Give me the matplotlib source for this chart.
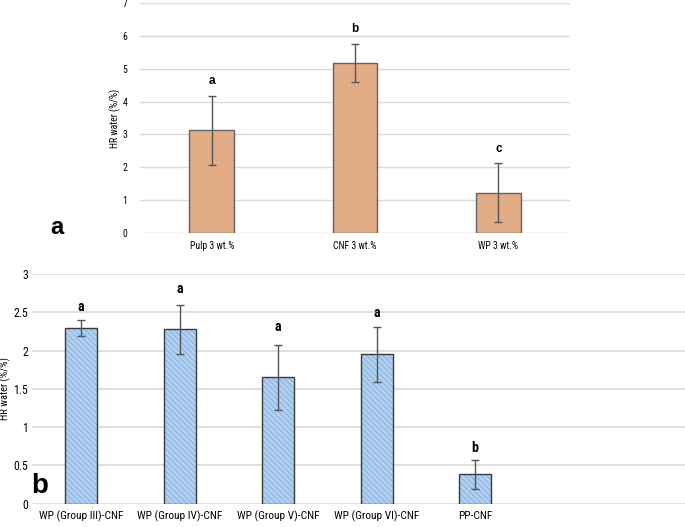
import matplotlib
matplotlib.use("Agg")
import matplotlib.pyplot as plt
from matplotlib import font_manager

# Datos panel (a)
cats_a = ['Pulp 3 wt.%', 'CNF 3 wt.%', 'WP 3 wt.%']
vals_a = [3.12, 5.17, 1.23]
errs_a = [1.04, 0.58, 0.91]
lets_a = ['a', 'b', 'c']
lets_a_y = [4.63, 6.2, 2.55]

# Datos panel (b)
cats_b = ['WP (Group III)-CNF', 'WP (Group IV)-CNF', 'WP (Group V)-CNF',
          'WP (Group VI)-CNF', 'PP-CNF']
vals_b = [2.30, 2.28, 1.65, 1.95, 0.385]
errs_b = [0.105, 0.32, 0.42, 0.355, 0.19]
lets_b = ['a', 'a', 'a', 'a', 'b']
lets_b_y = [2.57, 2.80, 2.31, 2.49, 0.73]

names = {f.name for f in font_manager.fontManager.ttflist}
narrow = 'DejaVu Sans'
for cand in ['Roboto Condensed', 'Liberation Sans Narrow', 'Open Sans Condensed']:
    if cand in names:
        narrow = cand
        break
plt.rcParams['font.family'] = [narrow, 'DejaVu Sans']
plt.rcParams['font.stretch'] = 'condensed'
bold_font = ['Liberation Sans', 'DejaVu Sans']

fig = plt.figure(figsize=(6.85, 5.27), dpi=100)

# Panel a
ax1 = fig.add_axes([0.2044, 0.5579, 0.628, 0.4364])
x1 = range(len(cats_a))
ax1.bar(x1, vals_a, width=0.31, color='#E2AC86', edgecolor='#5A6474',
        linewidth=1.0, zorder=2)
ax1.errorbar(x1, vals_a, yerr=errs_a, fmt='none', ecolor='#555555',
             elinewidth=1.0, capsize=3, capthick=1.0, zorder=3)
for i, (l, y) in enumerate(zip(lets_a, lets_a_y)):
    ax1.text(i, y, l, ha='center', va='center', fontsize=8.5, fontweight='bold',
             family=bold_font, fontstretch='normal')
ax1.set_xlim(-0.5, 2.5)
ax1.set_ylim(0, 7)
ax1.set_yticks(range(0, 8))
ax1.set_xticks(list(x1))
ax1.set_xticklabels(cats_a, fontsize=7)
ax1.tick_params(axis='y', labelsize=7, length=0, pad=9)
ax1.tick_params(axis='x', length=0, pad=6)
ax1.grid(axis='y', color='#D9D9D9', linewidth=1.0, zorder=0)
for s in ax1.spines.values():
    s.set_visible(False)
fig.text(115 / 685, 1 - 118 / 527, 'HR water (%/%)', fontsize=7,
         rotation=90, ha='center', va='center')
fig.text(57 / 685, 1 - 228 / 527, 'a', fontsize=17, fontweight='bold',
         family=bold_font, fontstretch='normal', ha='center', va='center')

# Panel b
ax2 = fig.add_axes([0.0467, 0.0442, 0.9533, 0.4359])
x2 = range(len(cats_b))
plt.rcParams['hatch.linewidth'] = 0.8
ax2.bar(x2, vals_b, width=0.325, color='#B2D0F0', edgecolor='#8DB4E2',
        linewidth=0, hatch='\\\\\\\\\\\\', zorder=2)
ax2.bar(x2, vals_b, width=0.325, color='none', edgecolor='#3A3A3A',
        linewidth=1.0, zorder=2.5)
ax2.errorbar(x2, vals_b, yerr=errs_b, fmt='none', ecolor='#555555',
             elinewidth=1.0, capsize=3, capthick=1.0, zorder=3)
for i, (l, y) in enumerate(zip(lets_b, lets_b_y)):
    ax2.text(i, y, l, ha='center', va='center', fontsize=10, fontweight='bold')
ax2.set_xlim(-0.5, 6.13)
ax2.set_ylim(0, 3)
ax2.set_yticks([0, 0.5, 1, 1.5, 2, 2.5, 3])
ax2.set_yticklabels(['0', '0.5', '1', '1.5', '2', '2.5', '3'])
ax2.set_xticks(list(x2))
ax2.set_xticklabels(cats_b, fontsize=8.2)
ax2.tick_params(axis='y', labelsize=8.5, length=0, pad=3)
ax2.tick_params(axis='x', length=0, pad=5)
ax2.grid(axis='y', color='#D9D9D9', linewidth=1.2, zorder=0)
for s in ax2.spines.values():
    s.set_visible(False)
fig.text(5 / 685, 1 - 388 / 527, 'HR water (%/%)', fontsize=7.5,
         rotation=90, ha='center', va='center')
fig.text(40 / 685, 1 - 486 / 527, 'b', fontsize=20, fontweight='bold',
         family=bold_font, fontstretch='normal', ha='center', va='center')

fig.savefig('out.png', dpi=100)
